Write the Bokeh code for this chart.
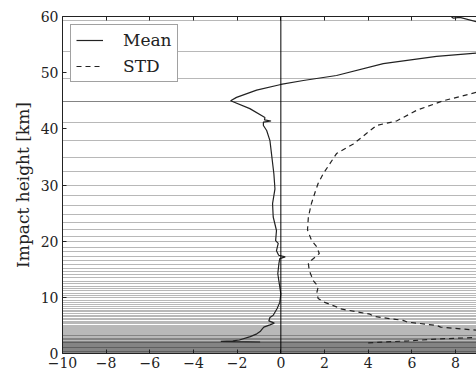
from bokeh.plotting import figure
from bokeh.models import FixedTicker, LinearAxis, Span, Range1d, Legend, LegendItem
from bokeh.embed import file_html
from bokeh.resources import INLINE

# ---- data ----
levels = [59.3, 53.8, 49.0, 44.9, 44.8, 41.1, 37.9, 34.9, 32.4, 30.0, 28.1, 26.3,
          24.8, 23.4, 22.1, 20.9, 19.9, 18.9, 18.1, 17.3, 16.6, 15.8, 15.2, 14.6,
          14.1, 13.5, 12.9, 12.5, 12.0, 11.5, 11.2, 10.7, 10.3, 9.9, 9.5, 9.1,
          8.75, 8.4, 8.05, 7.7, 7.4, 7.1, 6.8, 6.5, 6.25, 6.0, 5.75, 5.5, 5.27,
          5.05, 4.85, 4.65, 4.45, 4.26, 4.08, 3.9, 3.73, 3.57, 3.42, 3.27, 3.13,
          3.0, 2.87, 2.75, 2.63, 2.52, 2.41, 2.31, 2.21, 2.12, 2.03, 1.95, 1.87,
          1.79, 1.71, 1.63, 1.55, 1.47, 1.39, 1.31, 1.23, 1.15, 1.07, 0.99, 0.91,
          0.83, 0.75, 0.67, 0.59, 0.51, 0.43, 0.35, 0.27, 0.19, 0.11, 0.03]

mean_h = [2.05, 2.15, 2.25, 2.4, 3.0, 3.5, 3.9, 4.4, 4.7, 5.1, 5.4, 5.8, 6.4, 6.8,
          8.0, 9.1, 10.6, 12.4, 14.2, 16.0, 16.9, 17.2, 17.5, 18.3, 19.6, 20.1,
          21.9, 24.3, 26.7, 29.3, 32.0, 37.9, 39.7, 40.6, 41.2, 41.4, 41.6, 42.0,
          43.6, 45.0, 45.6, 46.9, 47.9, 48.6, 49.5, 51.6, 52.9, 53.5, 54.5, 56.5,
          59.0, 59.85, 59.7, 60.0]
mean_x = [-0.95, -2.75, -2.2, -1.9, -1.4, -1.1, -0.95, -0.85, -0.78, -0.5, -0.3,
          -0.55, -0.5, -0.35, -0.17, -0.05, 0.0, -0.07, -0.14, -0.09, -0.05, 0.2,
          -0.1, -0.2, -0.12, -0.24, -0.2, -0.35, -0.38, -0.27, -0.32, -0.5, -0.65,
          -0.8, -0.8, -0.45, -0.75, -0.73, -1.42, -2.3, -2.03, -1.11, 0.0, 1.03,
          2.55, 4.69, 7.13, 8.96, 10.5, 11.5, 9.0, 8.2, 7.9, 7.8]

std_h = [1.9, 2.26, 2.6, 2.85, 3.2, 3.6, 4.15, 4.7, 5.0, 5.6, 5.9, 6.6, 7.0, 7.95,
         8.3, 9.2, 9.8, 10.7, 11.9, 13.0, 14.8, 16.0, 16.6, 17.8, 19.0, 20.2, 22.0,
         24.3, 26.7, 29.1, 30.3, 32.0, 35.6, 37.3, 40.6, 41.4, 43.3, 45.0, 46.5,
         48.0, 52.0, 56.0, 60.0]
std_x = [4.0, 5.85, 7.3, 8.95, 11.0, 11.0, 8.96, 7.32, 7.13, 5.79, 5.6, 4.26, 4.08,
         2.73, 2.55, 1.94, 1.71, 1.64, 1.71, 1.48, 1.3, 1.26, 1.4, 1.76, 1.64, 1.4,
         1.22, 1.26, 1.4, 1.6, 1.71, 1.94, 2.55, 3.32, 4.38, 5.3, 6.22, 7.44, 8.96,
         10.0, 12.0, 13.0, 14.0]

xtick_vals = [-10, -8, -6, -4, -2, 0, 2, 4, 6, 8]
xtick_labels = ["\u221210", "\u22128", "\u22126", "\u22124", "\u22122", "0", "2", "4", "6", "8"]
ytick_vals = [0, 10, 20, 30, 40, 50, 60]

FONT = "DejaVu Serif"
INK = "#222222"

p = figure(width=476, height=373, x_range=Range1d(-10, 8.96), y_range=Range1d(0, 60),
           output_backend="svg", toolbar_location=None,
           min_border_left=62, min_border_right=0, min_border_top=16, min_border_bottom=20)
p.outline_line_color = None
p.grid.visible = False
p.background_fill_color = "white"

# level lines
p.hspan(y=levels, line_color="black", line_alpha=0.28, line_width=1)

p.add_layout(Span(location=0, dimension="height", line_color="black", line_width=1))

r_mean = p.line(mean_x, mean_h, line_color=INK, line_width=1.2)
r_std = p.line(std_x, std_h, line_color=INK, line_width=1.2, line_dash="5 4")

# axes
xa = p.xaxis[0]
xa.ticker = FixedTicker(ticks=xtick_vals)
xa.major_label_overrides = {v: l for v, l in zip(xtick_vals, xtick_labels)}
ya = p.yaxis[0]
ya.ticker = FixedTicker(ticks=ytick_vals)
ya.axis_label = "Impact height [km]"
ya.axis_label_text_font = FONT
ya.axis_label_text_font_size = "17px"
ya.axis_label_text_font_style = "normal"
ya.axis_label_text_color = INK
ya.axis_label_standoff = 5

top = LinearAxis(ticker=FixedTicker(ticks=xtick_vals),
                 major_label_overrides={v: "" for v in xtick_vals},
                 major_label_standoff=0)
p.add_layout(top, "above")

for ax in (xa, ya, top):
    ax.axis_line_color = "#222222"
    ax.axis_line_width = 1
    ax.major_tick_in = 4
    ax.major_tick_out = 0
    ax.major_tick_line_color = "#222222"
    ax.minor_tick_line_color = None
    ax.major_label_text_font = FONT
    ax.major_label_text_color = INK
for ax in (xa, ya):
    ax.major_label_text_font_size = "14px"
    ax.major_label_standoff = 4
xa.major_label_standoff = 3

legend = Legend(items=[LegendItem(label="Mean", renderers=[r_mean]),
                       LegendItem(label="STD", renderers=[r_std])],
                location="top_left", margin=8, padding=5, spacing=6,
                glyph_width=27, glyph_height=18, label_height=18, label_standoff=20,
                label_text_font=FONT, label_text_font_size="17px", label_text_color=INK,
                border_line_color="#444444", border_line_width=1,
                background_fill_color="white", background_fill_alpha=1.0)
p.add_layout(legend)

open("out.html", "w").write(file_html(p, INLINE))
